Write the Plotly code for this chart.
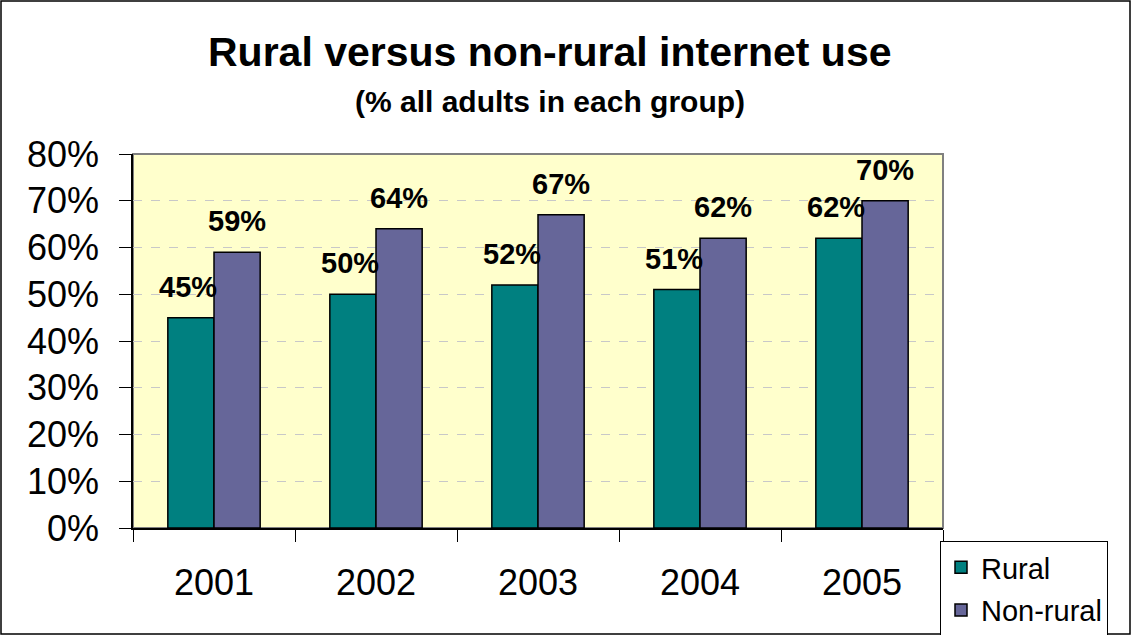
import plotly.graph_objects as go

years = ["2001", "2002", "2003", "2004", "2005"]
rural = [45, 50, 52, 51, 62]
non_rural = [59, 64, 67, 62, 70]
y_ticks = [0, 10, 20, 30, 40, 50, 60, 70, 80]
y_tick_labels = [f"{v}%" for v in y_ticks]

FONT = "Liberation Sans, Arial, sans-serif"
W, H = 1131, 635
L, R, T, B = 133, 943, 154, 528

def px_x(p):
    return (p - L) / (R - L)

def px_y(p):
    return (B - p) / (B - T)

fig = go.Figure()
fig.add_trace(go.Bar(
    x=years, y=rural, name="Rural", legendgroup="a",
    marker=dict(color="#008080", line=dict(color="black", width=1.5)),
))
fig.add_trace(go.Bar(
    x=years, y=non_rural, name="Non-rural", legendgroup="b",
    marker=dict(color="#666699", line=dict(color="black", width=1.5)),
))

# value labels above bars (x given as category index)
for series, shift in ((rural, -26), (non_rural, 23)):
    for i, v in enumerate(series):
        fig.add_annotation(x=i, y=v, xref="x", yref="y", text=f"{v}%",
                           showarrow=False, xshift=shift, yshift=31,
                           xanchor="center", yanchor="middle",
                           font=dict(family=FONT, size=29, color="black", weight="bold"))

fig.update_layout(
    width=W, height=H,
    margin=dict(l=L, r=W - R, t=T, b=H - B, autoexpand=False),
    paper_bgcolor="white", plot_bgcolor="#FFFFCC",
    barmode="group", bargap=0.43, bargroupgap=0,
    font=dict(family=FONT, color="black"),
    showlegend=True,
    legend=dict(
        x=px_x(940), y=px_y(541), xanchor="left", yanchor="top",
        bordercolor="black", borderwidth=1, bgcolor="white",
        font=dict(family=FONT, size=29, color="black"),
        tracegroupgap=2, itemwidth=30,
    ),
)

fig.update_xaxes(
    type="category", categoryorder="array", categoryarray=years,
    range=[-0.5, 4.5], tickangle=0,
    tickson="boundaries", ticks="outside", ticklen=12,
    tickcolor="black", showline=True, linecolor="black", linewidth=1.5,
    tickfont=dict(family=FONT, size=36, color="black"),
    ticklabelstandoff=22, showgrid=False,
)
fig.update_yaxes(
    range=[0, 80], tickvals=y_ticks, ticktext=y_tick_labels,
    ticks="outside", ticklen=12, tickcolor="black",
    showline=True, linecolor="black", linewidth=1.5,
    tickfont=dict(family=FONT, size=36, color="black"),
    ticklabelstandoff=13,
    showgrid=True, gridcolor="#C8C8C8", griddash="dash", gridwidth=1,
    zeroline=False,
)

# plot area border (gray top/right)
fig.add_shape(type="rect", xref="paper", yref="paper", x0=0, y0=0, x1=1, y1=1,
              line=dict(color="#808080", width=2), layer="below")
# outer chart border
fig.add_shape(type="rect", xref="paper", yref="paper",
              x0=px_x(1), y0=px_y(634), x1=px_x(1130), y1=px_y(1),
              line=dict(color="black", width=1.5))

fig.add_annotation(text="Rural versus non-rural internet use", xref="paper", yref="paper",
                   x=px_x(550), y=px_y(52), xanchor="center", yanchor="middle",
                   showarrow=False, font=dict(family=FONT, size=41, color="black", weight="bold"))
fig.add_annotation(text="(% all adults in each group)", xref="paper", yref="paper",
                   x=px_x(550), y=px_y(101), xanchor="center", yanchor="middle",
                   showarrow=False, font=dict(family=FONT, size=30, color="black", weight="bold"))

fig.write_html("out.html")
